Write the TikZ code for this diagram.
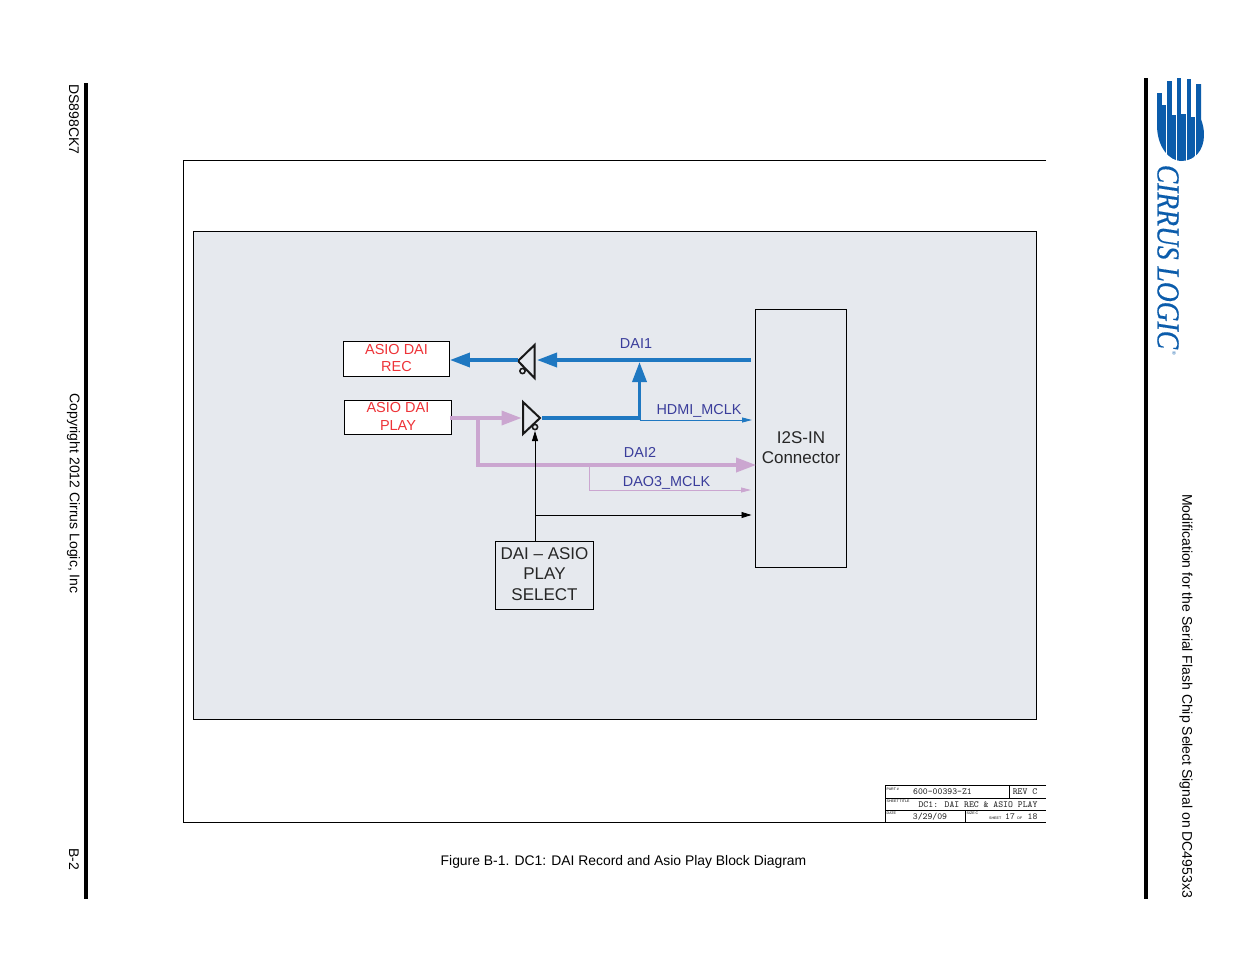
\documentclass[tikz,border=0pt]{standalone}
\usepackage{fontspec}
\setmainfont{Liberation Sans}
\newfontfamily\logofont[ItalicFeatures={FakeBold=0.5}]{Liberation Serif}
\usepackage{tikz}
\usetikzlibrary{arrows.meta}
\definecolor{panelgray}{HTML}{E6E9EE}
\definecolor{dablue}{HTML}{1F78C1}
\definecolor{dapink}{HTML}{CBA6D0}
\definecolor{labelblue}{HTML}{3A3D9B}
\definecolor{asiored}{HTML}{EE3338}
\definecolor{logoblue}{HTML}{0B5CAB}
\tikzset{
    sidetext/.style={rotate=-90,font=\fontsize{14}{16}\selectfont},
    signal/.style={text=labelblue,font=\fontsize{14.4}{16}\selectfont},
    asiobox/.style={draw=black,fill=white,line width=0.9,inner sep=0,align=center,text=asiored,font=\fontsize{14.5}{17.2}\selectfont},
    graybox/.style={draw=black,line width=0.7,inner sep=0,align=center,text=black!85,font=\fontsize{17}{20.4}\selectfont},
    thickblue/.style={draw=dablue,line width=3.5,-{Triangle[length=20,width=14,fill=dablue]}},
    thickpink/.style={draw=dapink,line width=3.5,-{Triangle[length=20,width=14,fill=dapink]}},
    thinblue/.style={draw=dablue,line width=0.9,-{Triangle[length=10,width=5,fill=dablue]}},
    thinpink/.style={draw=dapink,line width=0.9,-{Triangle[length=10,width=5,fill=dapink]}},
    thinblack/.style={draw=black,line width=0.8,-{Triangle[length=10,width=6,fill=black]}},
    buffer/.style={draw=black!90,line width=2,line join=miter,fill=none},
    blocktext/.style={inner sep=0,font=\ttfamily\fontsize{9.3}{10}\selectfont,text=black!85},
    blocktiny/.style={inner sep=0,anchor=west,font=\fontsize{3.6}{4}\selectfont}
}

\begin{document}
\begin{tikzpicture}[x=1pt,y=-1pt]
    \useasboundingbox [fill=white] (0,0) rectangle (1235,954);

    \fill [black] (84,83) rectangle (87.5,899);
    \fill [black] (1144,78) rectangle (1147.5,899);

    \node [sidetext] (docnumber) at (74,119.5) {DS898CK7};
    \node [sidetext] (copyright) at (73.5,493.5) {Copyright 2012 Cirrus Logic, Inc};
    \node [sidetext] (pagenumber) at (74,859) {B-2};
    \node [sidetext] (sidetitle) at (1186,696) {Modification for the Serial Flash Chip Select Signal on DC4953x3};

    \begin{scope}
        \clip (1157,92) -- (1157,125) .. controls (1157,148) and (1170,161) .. (1181,161)
            .. controls (1195,161) and (1204,150) .. (1204,135) .. controls (1204,129) and (1203,125) .. (1201,119) -- (1201,74) -- (1157,74) -- cycle;
        \foreach \xa/\xb/\ytop in {1157/1161.5/93,1161.5/1165.5/105,1166.5/1171.5/81,1171.5/1176/115,1177/1180.5/78,1180.5/1185.5/114,1186.5/1190.5/79,1190.5/1195/117,1196/1204.5/84}
            \fill [logoblue] (\xa,\ytop) rectangle (\xb,162);
    \end{scope}
    \node [rotate=-90,inner sep=0,text=logoblue,font=\logofont\itshape\fontsize{32}{32}\selectfont] (logotext) at (1168,257) {\scalebox{0.86}[1]{CIRRUS LOGIC}};
    \node [rotate=-90,inner sep=0,text=logoblue,font=\fontsize{5}{5}\selectfont] (logomark) at (1174,353) {®};

    \draw [line width=0.7] (1046,160.5) -- (183.5,160.5) -- (183.5,822.5) -- (1046,822.5);
    \draw [fill=panelgray,line width=0.7] (193.5,231.5) rectangle (1036.5,719.5);

    \node [asiobox,minimum width=106,minimum height=35] (asiorec) at (396.5,359) {ASIO DAI\\REC\rule[-2pt]{0pt}{2pt}};
    \node [asiobox,minimum width=107,minimum height=34] (asioplay) at (398,417.5) {ASIO DAI\\PLAY\rule[-2pt]{0pt}{2pt}};
    \node [graybox,minimum width=91,minimum height=258] (i2sin) at (801,438.5) {\rule{0pt}{30pt}I2S-IN\\Connector};
    \node [graybox,minimum width=98,minimum height=68] (daiselect) at (544.5,575.5) {DAI -- ASIO\\PLAY\\SELECT\rule[-3pt]{0pt}{3pt}};

    \coordinate (recout) at (518,360);
    \coordinate (recin) at (537,360);
    \coordinate (playin) at (521.5,418);
    \coordinate (playout) at (542,418);
    \coordinate (playen) at (535,431);
    \coordinate (dailine) at (751,360);
    \coordinate (daitee) at (639.5,362);
    \coordinate (pinktee) at (478,418);
    \coordinate (daotee) at (589.5,465);
    \coordinate (selecttee) at (535,515);

    \draw [buffer] (534.5,345) -- (518,361) -- (534.5,378) -- cycle;
    \draw [draw=black!90,line width=1.6] (522.5,371) circle (2.6);
    \draw [buffer] (523,402) -- (540,418) -- (523,434) -- cycle;
    \draw [draw=black!90,line width=1.6] (535,427) circle (2.6);

    \draw [thickblue] (dailine) -- (recin);
    \draw [thickblue] (recout) -- (asiorec.east |- recout);
    \draw [thickblue] (playout) -| (daitee);
    \draw [thinblue] (daitee |- 0,420) -- (752,420);
    \draw [thickpink] ([xshift=-2]asioplay.east |- playin) -- (playin);
    \draw [thickpink] (pinktee) |- ([xshift=1]i2sin.west |- daotee);
    \draw [thinpink] (daotee) |- (751,490);
    \draw [thinblack] (daiselect.north -| playen) -- (playen);
    \draw [thinblack] (selecttee) -- (751.5,515);

    \node [signal] (dailabel) at (636,344) {DAI1};
    \node [signal] (hdmilabel) at (699,411) {HDMI\_MCLK};
    \node [signal] (dai2label) at (640,452) {DAI2};
    \node [signal] (daolabel) at (666.5,483) {DAO3\_MCLK};

    \node [font=\fontsize{13.9}{16}\selectfont] (caption) at (623.5,861.5) {Figure B-1. DC1: DAI Record and Asio Play Block Diagram};

    \draw [line width=0.6] (1046,785.5) -- (885.5,785.5) -- (885.5,822.5);
    \draw [line width=0.6] (885.5,798) -- (1046,798);
    \draw [line width=0.6] (885.5,810.5) -- (1046,810.5);
    \draw [line width=0.6] (1009,785.5) -- (1009,798);
    \draw [line width=0.6] (965.5,810.5) -- (965.5,822.5);
    \node [blocktiny] (partlabel) at (886.5,789) {PART \#};
    \node [blocktiny] (titlelabel) at (886.5,801) {SHEET TITLE};
    \node [blocktiny] (datelabel) at (886.5,813.5) {DATE};
    \node [blocktiny] (sizelabel) at (966.5,813.5) {SIZE C};
    \node [blocktiny] (sheetlabel) at (989,818) {SHEET};
    \node [blocktiny] (oflabel) at (1017,818) {OF};
    \node [blocktext] (partnumber) at (942.5,792) {600-00393-Z1};
    \node [blocktext] (revision) at (1025,792) {REV C};
    \node [blocktext] (titlename) at (978,805) {DC1:  DAI REC \& ASIO PLAY};
    \node [blocktext] (datename) at (930,816.5) {3/29/09};
    \node [blocktext] (sheetone) at (1010,816.5) {17};
    \node [blocktext] (sheettwo) at (1032.5,816.5) {18};
\end{tikzpicture}
\end{document}
